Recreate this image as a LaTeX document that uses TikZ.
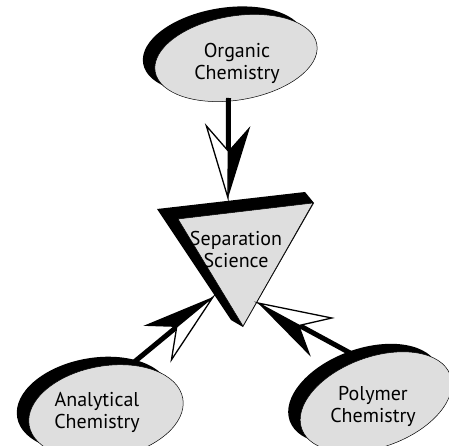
\documentclass[tikz,border=0pt]{standalone}
\usepackage{fontspec}
\setmainfont{PT Sans}
\usetikzlibrary{shapes.geometric}
\usetikzlibrary{shadows}
\usetikzlibrary{decorations.markings}

\definecolor{bubble}{gray}{0.87}

\tikzset{
	blob/.style={ellipse, draw=black, line width=0.5pt, fill=bubble, inner sep=0pt,
		general shadow={fill=black, draw=none, shadow xshift=-12pt, shadow yshift=8pt}},
	lbl/.style={align=center, inner sep=0pt, font=\fontsize{20}{22}\selectfont},
	dart/.style={line width=5pt, shorten >=40pt, postaction={decorate},
		decoration={markings, mark=at position 1 with {
			\fill[black] (0,0) -- (-47pt,0) -- (-72pt,22pt) -- cycle;
			\filldraw[fill=white, draw=black, line width=1.3pt, line join=miter] (0,0) -- (-47pt,0) -- (-72pt,-22pt) -- cycle;
		}}},
}

\begin{document}
\begin{tikzpicture}[x=1pt, y=1pt]

	\useasboundingbox (0,0) rectangle (449,445);
	\clip (0,0) rectangle (449,445);

	%separation triangle
	\fill[black] (157,236) -- (305,253) -- (314,242) -- (243,118) -- (231,125) -- cycle;
	\filldraw[fill=bubble, draw=black, line width=0.5pt] (178,226) -- (313,242) -- (243,119) -- cycle;
	\node[lbl] (sep) at (236,196) {Separation\\Science};

	%fields
	\node[blob, rotate=9.5, minimum width=164pt, minimum height=84pt] (org) at (236,387) {};
	\node[lbl] (orgtxt) at (237,382) {Organic\\Chemistry};

	\node[blob, rotate=10, minimum width=156pt, minimum height=92pt] (ana) at (106,33) {};
	\node[lbl] (anatxt) at (97,33) {Analytical\\Chemistry};

	\node[blob, rotate=20, minimum width=158pt, minimum height=90pt] (pol) at (376,43) {};
	\node[lbl] (poltxt) at (373,39) {Polymer\\Chemistry};

	%arrow ends
	\coordinate (orgfoot) at (228.5,347);
	\coordinate (anafoot) at (133,82);
	\coordinate (polfoot) at (352,91);
	\coordinate (septop) at (228,247);
	\coordinate (sepleft) at (213,148);
	\coordinate (sepright) at (258,142);

	%arrows
	\draw[dart] (orgfoot) -- (septop);
	\draw[dart] (anafoot) -- (sepleft);
	\draw[dart] (polfoot) -- (sepright);

\end{tikzpicture}
\end{document}
